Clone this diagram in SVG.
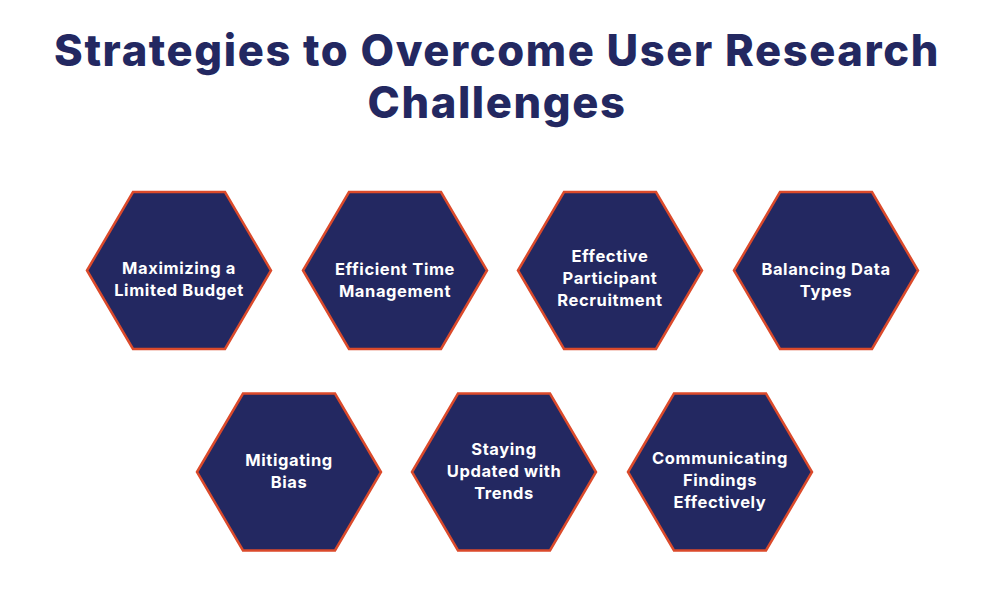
<svg xmlns="http://www.w3.org/2000/svg" width="1004" height="591" viewBox="0 0 1004 591">
<defs>
<style>
.t{font-family:Inter,"Open Sans",sans-serif;font-weight:800;fill:#232861;font-size:43.5px;letter-spacing:1.6px;text-anchor:middle}
.h{fill:#232861;stroke:#db4a2b;stroke-width:2.5}
.l{font-family:Inter,"Open Sans",sans-serif;font-weight:700;fill:#fff;font-size:16.5px;letter-spacing:0.6px;text-anchor:middle}
</style>
<polygon id="hex" class="h" points="-92,0 -46,-78.5 46,-78.5 92,0 46,78.5 -46,78.5"/>
</defs>
<rect width="1004" height="591" fill="#fff"/>
<text class="t" x="497" y="66">Strategies to Overcome User Research</text>
<text class="t" x="497" y="118">Challenges</text>
<g id="n1" transform="translate(179,270.5)"><use href="#hex"/><text class="l" y="3">Maximizing a</text><text class="l" y="25">Limited Budget</text></g>
<g id="n2" transform="translate(395,270.5)"><use href="#hex"/><text class="l" y="4">Efficient Time</text><text class="l" y="26">Management</text></g>
<g id="n3" transform="translate(610,270.5)"><use href="#hex"/><text class="l" y="-9">Effective</text><text class="l" y="13">Participant</text><text class="l" y="35">Recruitment</text></g>
<g id="n4" transform="translate(826,270.5)"><use href="#hex"/><text class="l" y="4">Balancing Data</text><text class="l" y="26">Types</text></g>
<g id="n5" transform="translate(289,472)"><use href="#hex"/><text class="l" y="-6">Mitigating</text><text class="l" y="16">Bias</text></g>
<g id="n6" transform="translate(504,472)"><use href="#hex"/><text class="l" y="-17">Staying</text><text class="l" y="5">Updated with</text><text class="l" y="27">Trends</text></g>
<g id="n7" transform="translate(720,472)"><use href="#hex"/><text class="l" y="-8">Communicating</text><text class="l" y="14">Findings</text><text class="l" y="36">Effectively</text></g>
<g id="connectors"/>
</svg>
